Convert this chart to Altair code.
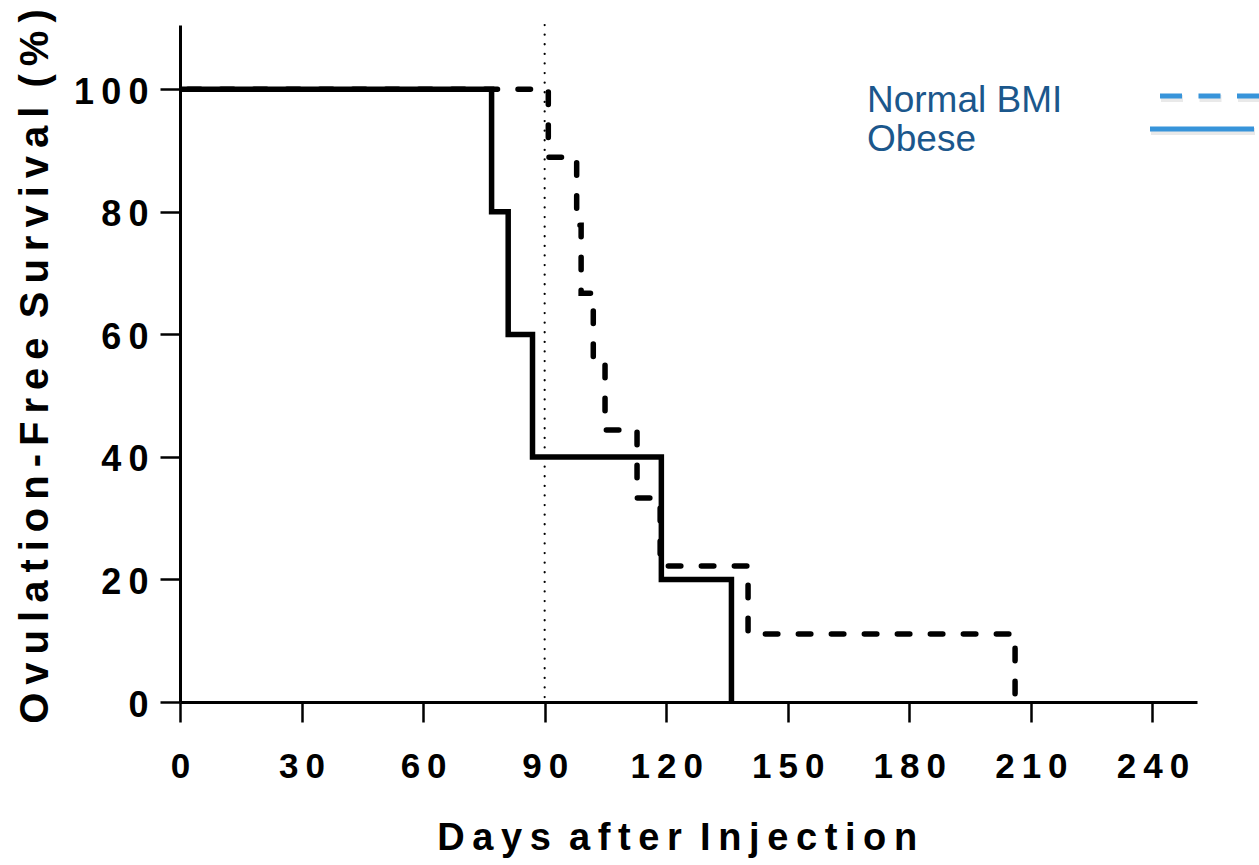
import altair as alt
import pandas as pd

# ---- data ----
normal_days = [0, 90.9, 97.9, 99.0, 102.0, 104.9, 112.8, 118.5, 140.2, 206.1]
normal_surv = [100, 88.9, 77.8, 66.7, 55.6, 44.4, 33.3, 22.2, 11.1, 0]
obese_days = [0, 76.9, 81.0, 87.0, 118.8, 136.1]
obese_surv = [100, 80, 60, 40, 20, 0]
ref_day = [90]
x_ticks = [0, 30, 60, 90, 120, 150, 180, 210, 240]
y_ticks = [0, 20, 40, 60, 80, 100]
legend_labels = ["Normal BMI", "Obese"]
x_title = "Days after Injection"
y_title = "Ovulation-Free Survival (%)"

THIN = "\u2009"


def spaced(s):
    return (" " + THIN).join(THIN.join(w) for w in s.split(" "))


normal_df = pd.DataFrame({"day": normal_days, "surv": normal_surv})
obese_df = pd.DataFrame({"day": obese_days, "surv": obese_surv})
ref_df = pd.DataFrame({"day": ref_day})
one = pd.DataFrame({"k": [0]})

label_expr = "join(split(datum.label, ''), '" + THIN + "')"

x_scale = alt.Scale(domain=[0, 251], nice=False, zero=False)
y_scale = alt.Scale(domain=[0, 110.5], nice=False, zero=False)

x_axis = alt.Axis(
    values=x_ticks, title=spaced(x_title), labelExpr=label_expr,
    labelFontSize=35, labelPadding=27, titleFontSize=38,
    titleX=496.7, titleY=147, titleBaseline="alphabetic", titleAlign="center",
)
y_axis = alt.Axis(
    values=y_ticks, title=spaced(y_title), labelExpr=label_expr,
    labelFontSize=36, labelPadding=12, labelOffset=3,
    titleFontSize=40, titleAngle=270, titleX=-133, titleY=341,
    titleBaseline="alphabetic", titleAlign="center",
)

dotted = alt.Chart(ref_df).mark_rule(
    color="black", strokeWidth=2.2, strokeDash=[0.1, 9.5], strokeCap="round"
).encode(
    x=alt.X("day:Q", scale=x_scale, axis=x_axis),
    y=alt.value(0), y2=alt.value(677),
)

normal = alt.Chart(normal_df).mark_line(
    interpolate="step-after", color="black", strokeWidth=5.5,
    strokeDash=[12.5, 20.5], strokeCap="round", strokeDashOffset=25,
).encode(
    x=alt.X("day:Q", scale=x_scale, axis=x_axis),
    y=alt.Y("surv:Q", scale=y_scale, axis=y_axis),
)

obese = alt.Chart(obese_df).mark_line(
    interpolate="step-after", color="black", strokeWidth=5.5, strokeJoin="miter",
).encode(
    x=alt.X("day:Q", scale=x_scale, axis=x_axis),
    y=alt.Y("surv:Q", scale=y_scale, axis=y_axis),
)

TEXT_BLUE = "#1b578c"
LINE_BLUE = "#3794da"

leg_text1 = alt.Chart(one).mark_text(
    text=legend_labels[0], font="Liberation Sans", fontSize=37, color=TEXT_BLUE,
    align="left", baseline="alphabetic",
).encode(x=alt.value(687), y=alt.value(87))
leg_text2 = alt.Chart(one).mark_text(
    text=legend_labels[1], font="Liberation Sans", fontSize=37, color=TEXT_BLUE,
    align="left", baseline="alphabetic",
).encode(x=alt.value(687), y=alt.value(126))

leg_shadow1 = alt.Chart(one).mark_rule(
    color="#999999", opacity=0.22, strokeWidth=7, strokeDash=[22, 16.5]
).encode(x=alt.value(981), x2=alt.value(1080), y=alt.value(73.5))
leg_line1 = alt.Chart(one).mark_rule(
    color=LINE_BLUE, strokeWidth=5, strokeDash=[22, 16.5]
).encode(x=alt.value(980), x2=alt.value(1079), y=alt.value(71))
leg_shadow2 = alt.Chart(one).mark_rule(
    color="#999999", opacity=0.22, strokeWidth=7
).encode(x=alt.value(971), x2=alt.value(1075), y=alt.value(106.5))
leg_line2 = alt.Chart(one).mark_rule(
    color=LINE_BLUE, strokeWidth=5
).encode(x=alt.value(970), x2=alt.value(1074), y=alt.value(104))

chart = alt.layer(
    dotted, normal, obese,
    leg_shadow1, leg_line1, leg_shadow2, leg_line2, leg_text1, leg_text2,
).properties(
    width=1017, height=677,
    padding={"left": 180, "top": 25, "right": 62, "bottom": 163},
    autosize="none",
).configure_view(stroke=None).configure_axis(
    grid=False, domainColor="black", domainWidth=3, tickColor="black",
    tickWidth=2.5, tickSize=20, labelFont="Liberation Sans",
    labelFontWeight="bold", labelColor="black", labelFlush=False,
    labelOverlap=False, labelBound=False,
    titleFont="Liberation Sans", titleFontWeight="bold", titleColor="black",
)

chart.save("out.html", embed_options={"renderer": "svg", "actions": False})
